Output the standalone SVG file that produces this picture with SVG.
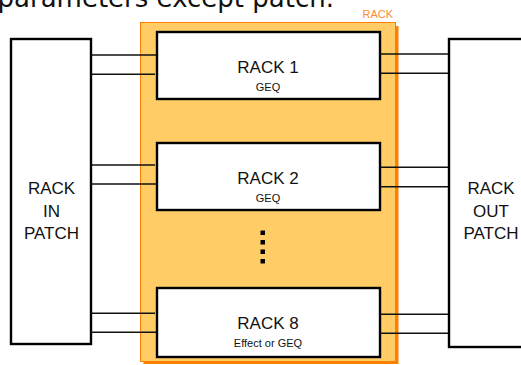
<svg xmlns="http://www.w3.org/2000/svg" width="521" height="365" viewBox="0 0 521 365">
<style>
.box{fill:#fff;stroke:#000;stroke-width:2.4}
.t{font-family:"Liberation Sans",Arial,sans-serif;fill:#111;text-anchor:middle}
.big{font-size:17px}
.small{font-size:11px}
.wire{stroke:#111;stroke-width:1.4;fill:none}
</style>
<rect width="521" height="365" fill="#fff"/>
<text x="334" y="7" font-family="'DejaVu Sans',sans-serif" font-size="26" text-anchor="end" fill="#111">parameters except patch.</text>
<g id="rack">
<rect x="143.5" y="26" width="255" height="338" fill="#FF8000"/>
<rect x="140.5" y="22.5" width="255" height="339" fill="#FFCC66" stroke="#FF8000" stroke-width="1"/>
<text x="393" y="18" font-family="'Liberation Sans',Arial,sans-serif" font-size="11" text-anchor="end" fill="#FF8A33">RACK</text>
</g>
<g id="in-patch">
<rect class="box" x="11" y="39" width="80" height="305"/>
<text class="t big" x="51.5" y="194">RACK</text>
<text class="t big" x="51.5" y="216.7">IN</text>
<text class="t big" x="51.5" y="239.3">PATCH</text>
</g>
<g id="out-patch">
<rect class="box" x="449" y="39" width="90" height="308"/>
<text class="t big" x="491" y="194">RACK</text>
<text class="t big" x="491" y="216.7">OUT</text>
<text class="t big" x="491" y="239.3">PATCH</text>
</g>
<g id="rack1">
<rect class="box" x="157" y="32" width="223" height="67"/>
<text class="t big" x="268" y="72.7">RACK 1</text>
<text class="t small" x="268" y="91">GEQ</text>
</g>
<g id="rack2">
<rect class="box" x="157" y="143" width="223" height="67"/>
<text class="t big" x="268" y="183.7">RACK 2</text>
<text class="t small" x="268" y="202">GEQ</text>
</g>
<g id="dots" fill="#000">
<rect x="260.5" y="230.5" width="4.5" height="4.5"/>
<rect x="260.5" y="240" width="4.5" height="4.5"/>
<rect x="260.5" y="249.5" width="4.5" height="4.5"/>
<rect x="260.5" y="259" width="4.5" height="4.5"/>
</g>
<g id="rack8">
<rect class="box" x="157" y="288" width="223" height="69"/>
<text class="t big" x="268" y="329">RACK 8</text>
<text class="t small" x="268" y="346.7">Effect or GEQ</text>
</g>
<g id="connectors">
<line class="wire" x1="91" y1="55" x2="156" y2="55"/>
<line class="wire" x1="91" y1="74.3" x2="155" y2="74.3"/>
<line class="wire" x1="91" y1="165" x2="155" y2="165"/>
<line class="wire" x1="91" y1="184" x2="156" y2="184"/>
<line class="wire" x1="91" y1="313.3" x2="155" y2="313.3"/>
<line class="wire" x1="91" y1="332.3" x2="156" y2="332.3"/>
<line class="wire" x1="381" y1="54" x2="448" y2="54"/>
<line class="wire" x1="381" y1="73.3" x2="448" y2="73.3"/>
<line class="wire" x1="381" y1="167.3" x2="448" y2="167.3"/>
<line class="wire" x1="381" y1="186.7" x2="448" y2="186.7"/>
<line class="wire" x1="381" y1="314.3" x2="448" y2="314.3"/>
<line class="wire" x1="381" y1="333.3" x2="448" y2="333.3"/>
</g>
</svg>
